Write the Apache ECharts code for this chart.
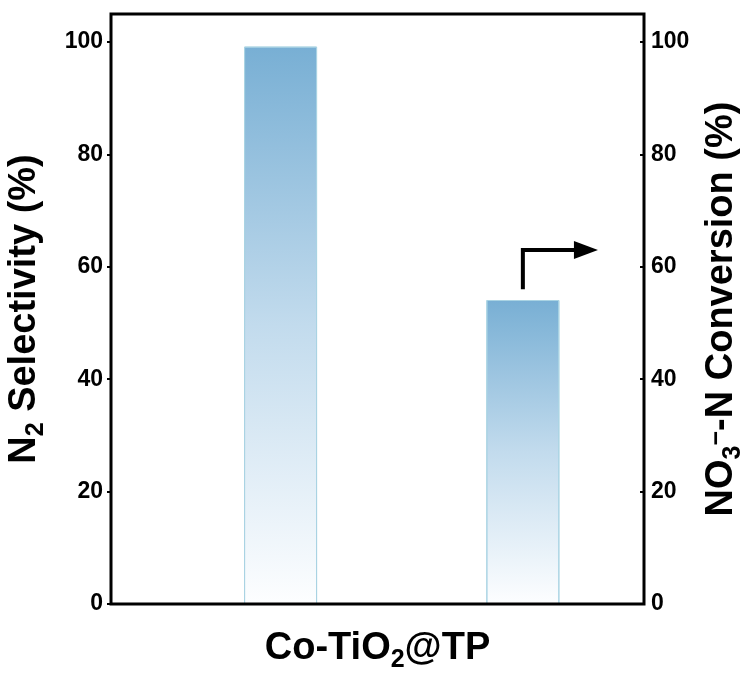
<!DOCTYPE html>
<html>
<head>
<meta charset="utf-8">
<script src="https://cdn.jsdelivr.net/npm/echarts@6/dist/echarts.min.js"></script>
<style>
  html, body { margin: 0; padding: 0; background: #fff; }
  #chart { width: 750px; height: 677px; }
</style>
</head>
<body>
<div id="chart"></div>
<script>
// Sample and measured values
const sampleLabel = ['Co-TiO', '2', '@TP'];      // drawn as Co-TiO₂@TP
const barSlots = [1, 2];                          // slot of each bar along the x axis
const n2Selectivity = [99.2];                     // %, left axis
const no3Conversion = [54.1];                     // %, right axis
const yMin = 0, yMax = 105, yStep = 20;
// Arrow from the conversion bar toward the right axis (conversion-axis units)
const arrowPath = [[2, 56], [2, 63], [2.31, 63]];

const FONT = '"Liberation Sans", Arial, Helvetica, sans-serif';

const rich = {
  b: { fontSize: 38, fontWeight: 'bold', fontFamily: FONT, color: '#000', lineHeight: 50, verticalAlign: 'bottom', padding: [0, 0, 10, 0] },
  s: { fontSize: 25, fontWeight: 'bold', fontFamily: FONT, color: '#000', lineHeight: 50, verticalAlign: 'bottom', padding: [0, 0, 5, 0] },
  p: { fontSize: 25, fontWeight: 'bold', fontFamily: FONT, color: '#000', lineHeight: 50, verticalAlign: 'top', padding: [4, 0, 0, 0] }
};

function barFill() {
  return new echarts.graphic.LinearGradient(0, 0, 0, 1, [
    { offset: 0, color: '#78afd4' },
    { offset: 0.5, color: '#c2dbed' },
    { offset: 1, color: '#fdfeff' }
  ]);
}

const tickLabel = { fontSize: 23, fontWeight: 'bold', fontFamily: FONT, color: '#000' };

const chart = echarts.init(document.getElementById('chart'), null, { renderer: 'canvas' });

const option = {
  animation: false,
  backgroundColor: '#fff',
  grid: {
    left: 111, right: 106, top: 14, bottom: 73,
    outerBoundsMode: 'none',
    containLabel: false,
    show: true, z: 10,
    backgroundColor: 'transparent',
    borderColor: '#000', borderWidth: 3
  },
  xAxis: {
    type: 'value',
    min: 0.3, max: 2.5,
    axisLine: { show: false },
    axisTick: { show: false },
    axisLabel: { show: false },
    splitLine: { show: false },
    name: '{b|' + sampleLabel[0] + '}{s|' + sampleLabel[1] + '}{b|' + sampleLabel[2] + '}',
    nameLocation: 'middle',
    nameGap: 24,
    nameTextStyle: { rich: rich }
  },
  yAxis: [
    {
      type: 'value', position: 'left',
      min: yMin, max: yMax, interval: yStep,
      axisLine: { show: false },
      axisTick: { show: true, inside: false, length: 4, lineStyle: { color: '#000', width: 2 } },
      axisLabel: Object.assign({ margin: 8, showMaxLabel: false }, tickLabel),
      splitLine: { show: false },
      name: '{b|N}{s|2}{b| Selectivity (%)}',
      nameLocation: 'middle',
      nameRotate: 90,
      nameGap: 41,
      nameTextStyle: { rich: rich }
    },
    {
      type: 'value', position: 'right',
      min: yMin, max: yMax, interval: yStep,
      axisLine: { show: false },
      axisTick: { show: true, inside: true, length: 4, lineStyle: { color: '#000', width: 2 } },
      axisLabel: Object.assign({ margin: 7, showMaxLabel: false }, tickLabel),
      splitLine: { show: false },
      name: '{b|NO}{s|3}{p|−}{b|-N Conversion (%)}',
      nameLocation: 'middle',
      nameRotate: 90,
      nameGap: 36,
      nameTextStyle: { rich: rich }
    }
  ],
  series: [
    {
      name: 'N2 Selectivity',
      type: 'bar',
      xAxisIndex: 0, yAxisIndex: 0,
      barWidth: 73, barGap: '-100%',
      data: barSlots.slice(0, 1).map((x, i) => [x, n2Selectivity[i]]),
      itemStyle: { color: barFill(), borderColor: '#a9d3e3', borderWidth: 1 }
    },
    {
      name: 'NO3- Conversion',
      type: 'bar',
      xAxisIndex: 0, yAxisIndex: 1,
      barWidth: 73, barGap: '-100%',
      data: barSlots.slice(1, 2).map((x, i) => [x, no3Conversion[i]]),
      itemStyle: { color: barFill(), borderColor: '#a9d3e3', borderWidth: 1 }
    }
  ]
};

chart.setOption(option);

// Bent arrow pointing to the conversion axis
const pts = arrowPath.map(p => chart.convertToPixel({ seriesIndex: 1 }, p));
const tip = pts[pts.length - 1];
const headLen = 24, headHalf = 9;
const shaft = pts.slice(0, -1).concat([[tip[0] - headLen + 2, tip[1]]]);
chart.setOption({
  graphic: [
    {
      type: 'polyline', z: 20,
      shape: { points: shaft },
      style: { stroke: '#000', lineWidth: 4, fill: null, lineJoin: 'miter' }
    },
    {
      type: 'polygon', z: 20,
      shape: { points: [[tip[0] - headLen, tip[1] - headHalf], tip, [tip[0] - headLen, tip[1] + headHalf]] },
      style: { fill: '#000' }
    }
  ]
});
</script>
</body>
</html>
